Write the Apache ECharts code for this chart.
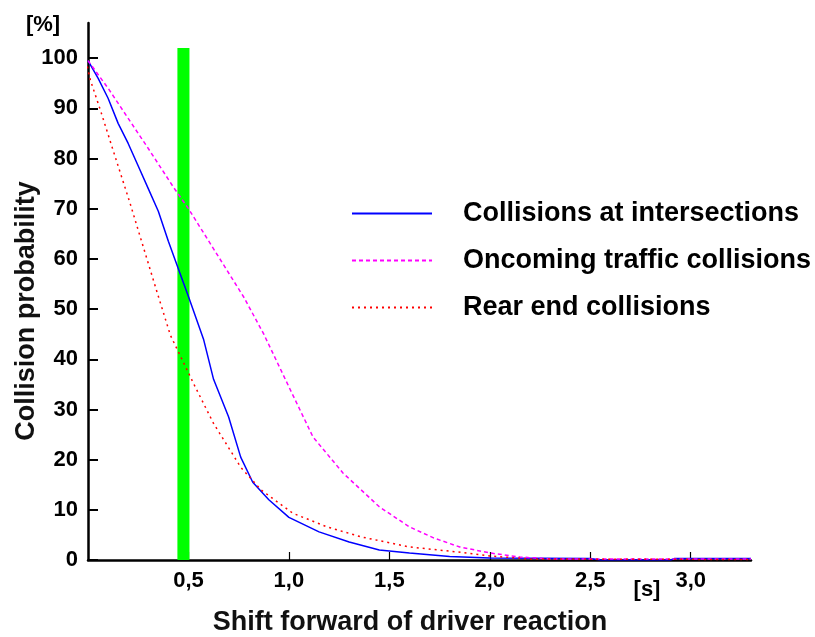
<!DOCTYPE html>
<html><head><meta charset="utf-8">
<script src="https://cdn.jsdelivr.net/npm/echarts@6/dist/echarts.min.js"></script>
<style>html,body{margin:0;padding:0;background:#fff}#c{width:815px;height:637px}</style>
</head><body><div id="c"></div>
<script>
// Data
const seriesNames = ['Collisions at intersections', 'Oncoming traffic collisions', 'Rear end collisions'];

const intersX = [0, 0.05, 0.1, 0.15, 0.2, 0.25, 0.3, 0.35, 0.4, 0.45, 0.5, 0.575, 0.625, 0.7, 0.76, 0.82, 0.9, 1.0, 1.15, 1.3, 1.45, 1.6, 1.8, 2.0, 2.5, 2.55, 2.9, 2.92, 3.3];
const intersY = [99.5, 96, 92, 87, 83, 78.5, 74, 69.5, 63.5, 58, 52.5, 44, 36, 28.5, 20.5, 15.5, 12, 8.5, 5.6, 3.6, 2, 1.4, 0.7, 0.4, 0.3, 0, 0, 0.3, 0.3];

const oncomingX = [0, 0.1, 0.2, 0.3, 0.425, 0.5, 0.625, 0.775, 0.875, 1.0, 1.12, 1.27, 1.45, 1.6, 1.72, 1.85, 2.0, 2.15, 2.3, 3.3];
const oncomingY = [99.5, 94, 88, 82, 74.3, 70, 62, 52.4, 45, 34.5, 24.5, 17.3, 10.6, 6.6, 4.4, 2.6, 1.4, 0.6, 0.2, 0.2];

const rearX = [-0.01, 0.012, 0.062, 0.13, 0.21, 0.275, 0.345, 0.41, 0.525, 0.625, 0.76, 0.86, 1.02, 1.19, 1.36, 1.6, 1.84, 2.0, 2.2, 3.3];
const rearY = [99.5, 95.6, 89.6, 81, 71, 62.4, 53.2, 44.8, 35.2, 27.2, 18.5, 14, 9.3, 6.6, 4.6, 2.6, 1.6, 0.8, 0.2, 0.1];

const markerRange = [0.445, 0.505];   // green reaction bar (x range)
const markerTop = 102;

const yTicks = [0, 10, 20, 30, 40, 50, 60, 70, 80, 90, 100];
const xTicks = [0.5, 1.0, 1.5, 2.0, 2.5, 3.0];

const zip = (xs, ys) => xs.map((x, i) => [x, ys[i]]);

const chart = echarts.init(document.getElementById('c'), null, {renderer: 'canvas'});
const FONT = '"Liberation Sans", Arial, sans-serif';
chart.setOption({
  animation: false,
  backgroundColor: '#fff',
  grid: {left: 88, right: 64, top: 23, bottom: 77},
  xAxis: {
    type: 'value', min: 0, max: 3.3,
    axisLine: {lineStyle: {color: '#000', width: 2.5}},
    axisTick: {inside: true, length: 8, lineStyle: {color: '#000', width: 1.2}, customValues: xTicks},
    axisLabel: {customValues: xTicks, margin: 10, color: '#000', fontWeight: 'bold', fontSize: 22, fontFamily: FONT,
      formatter: v => v.toFixed(1).replace('.', ',')},
    splitLine: {show: false}
  },
  yAxis: {
    type: 'value', min: 0, max: 107,
    axisLine: {show: true, lineStyle: {color: '#000', width: 2.5}},
    axisTick: {show: true, inside: true, length: 10, lineStyle: {color: '#000', width: 2}, customValues: yTicks},
    axisLabel: {customValues: yTicks, margin: 10, color: '#000', fontWeight: 'bold', fontSize: 22, fontFamily: FONT},
    splitLine: {show: false}
  },
  legend: {
    orient: 'vertical', left: 346, top: 195, itemWidth: 80, itemHeight: 14, itemGap: 20,
    itemStyle: {opacity: 0},
    textStyle: {color: '#000', fontWeight: 'bold', fontSize: 27, fontFamily: FONT, padding: [0, 0, 0, 26]},
    data: seriesNames.map(n => ({name: n}))
  },
  series: [
    {name: seriesNames[0], type: 'line', data: zip(intersX, intersY), symbol: 'none', smooth: false,
      lineStyle: {color: '#0000ff', width: 1.5, type: 'solid'}, itemStyle: {color: '#0000ff'},
      markArea: {silent: true, itemStyle: {color: '#00ff00', opacity: 1},
        data: [[{xAxis: markerRange[0], yAxis: 0}, {xAxis: markerRange[1], yAxis: markerTop}]]},
      z: 3},
    {name: seriesNames[1], type: 'line', data: zip(oncomingX, oncomingY), symbol: 'none',
      lineStyle: {color: '#ff00ff', width: 1.5, type: [4, 3]}, itemStyle: {color: '#ff00ff'}, z: 4},
    {name: seriesNames[2], type: 'line', data: zip(rearX, rearY), symbol: 'none',
      lineStyle: {color: '#ff0000', width: 1.5, type: [2, 4]}, itemStyle: {color: '#ff0000'}, z: 4}
  ],
  graphic: [
    {type: 'text', x: 43, y: 25, style: {text: '[%]', font: 'bold 22px ' + FONT, fill: '#000', align: 'center', verticalAlign: 'middle'}},
    {type: 'text', x: 647, y: 590, style: {text: '[s]', font: 'bold 22px ' + FONT, fill: '#000', align: 'center', verticalAlign: 'middle'}},
    {type: 'text', x: 410, y: 623, style: {text: 'Shift forward of driver reaction', font: 'bold 27px ' + FONT, fill: '#111', align: 'center', verticalAlign: 'middle'}},
    {type: 'text', x: 27, y: 311, rotation: Math.PI / 2, style: {text: 'Collision probability', font: 'bold 27px ' + FONT, fill: '#111', align: 'center', verticalAlign: 'middle'}}
  ]
});
</script></body></html>
